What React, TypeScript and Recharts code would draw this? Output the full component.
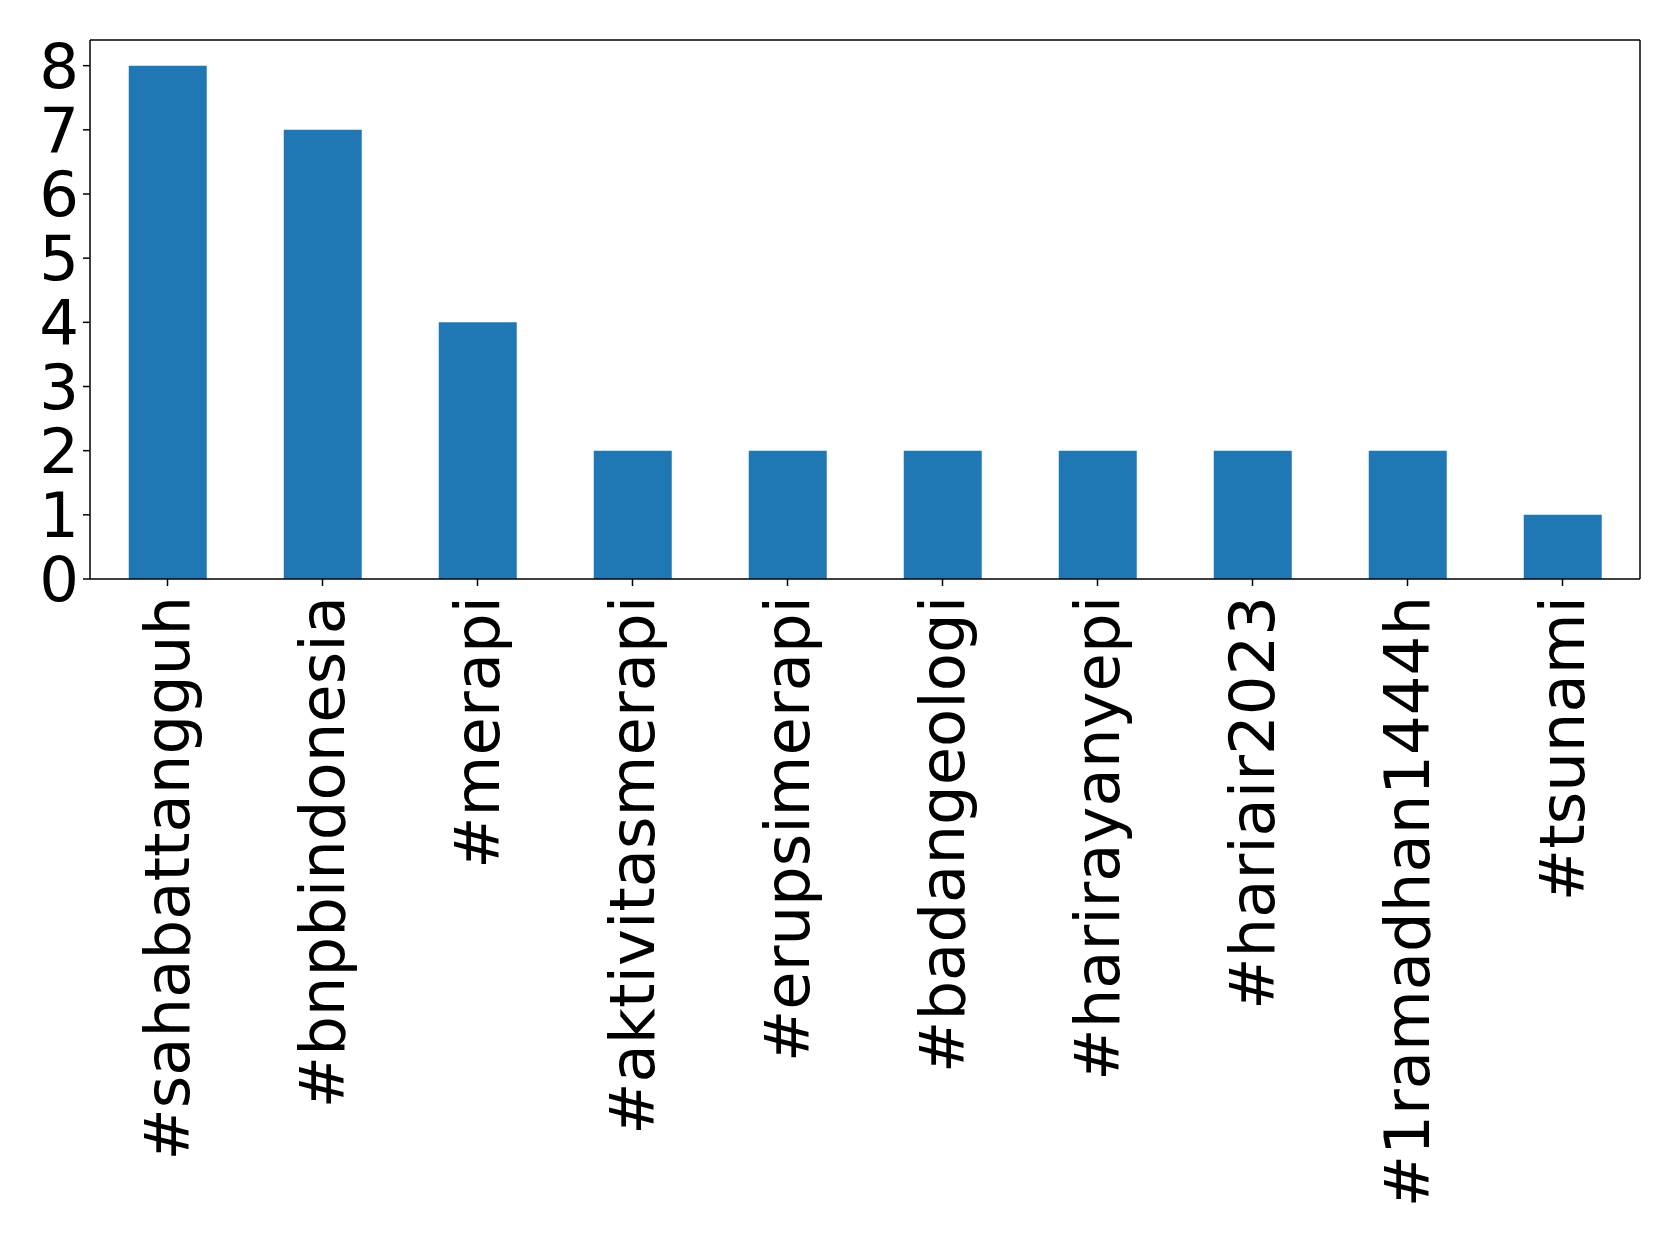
import { Bar, BarChart, ReferenceLine, XAxis, YAxis } from "recharts"

const hashtags = [
  "#sahabattangguh",
  "#bnpbindonesia",
  "#merapi",
  "#aktivitasmerapi",
  "#erupsimerapi",
  "#badangeologi",
  "#harirayanyepi",
  "#hariair2023",
  "#1ramadhan1444h",
  "#tsunami",
]

const counts = [8, 7, 4, 2, 2, 2, 2, 2, 2, 1]

const yTicks = [0, 1, 2, 3, 4, 5, 6, 7, 8]
const yMax = 8.4

const data = hashtags.map((name, i) => ({ name, count: counts[i] }))

const font = "'DejaVu Sans', sans-serif"

const HashtagTick = (props: any) => {
  const { x, y, payload } = props
  return (
    <text
      x={0}
      y={0}
      transform={`translate(${x},${y + 8}) rotate(-90)`}
      textAnchor="end"
      dy="0.35em"
      fontSize={62.5}
      fontFamily={font}
      fill="#000"
    >
      {payload.value}
    </text>
  )
}

export default function App() {
  return (
    <div style={{ position: "absolute", left: 0, top: 0, background: "#fff" }}>
      <BarChart
        width={1679}
        height={1239}
        data={data}
        barCategoryGap="25%"
        margin={{ top: 40, right: 38, bottom: 0, left: 0 }}
      >
        <XAxis
          dataKey="name"
          height={660}
          interval={0}
          tick={<HashtagTick />}
          tickSize={7}
          tickLine={{ stroke: "#000", strokeWidth: 1.5 }}
          axisLine={{ stroke: "#000", strokeWidth: 1.5 }}
        />
        <YAxis
          width={90}
          domain={[0, yMax]}
          ticks={yTicks}
          interval={0}
          tickSize={7}
          tickMargin={4}
          tick={{ fontSize: 62.5, fontFamily: font, fill: "#000" }}
          tickLine={{ stroke: "#000", strokeWidth: 1.5 }}
          axisLine={{ stroke: "#000", strokeWidth: 1.5 }}
        />
        <YAxis
          yAxisId="right"
          orientation="right"
          width={1}
          domain={[0, yMax]}
          tick={false}
          tickLine={false}
          axisLine={{ stroke: "#000", strokeWidth: 1.5 }}
        />
        <ReferenceLine y={yMax} stroke="#000" strokeWidth={1.5} />
        <Bar dataKey="count" fill="#1f77b4" isAnimationActive={false} />
      </BarChart>
    </div>
  )
}
